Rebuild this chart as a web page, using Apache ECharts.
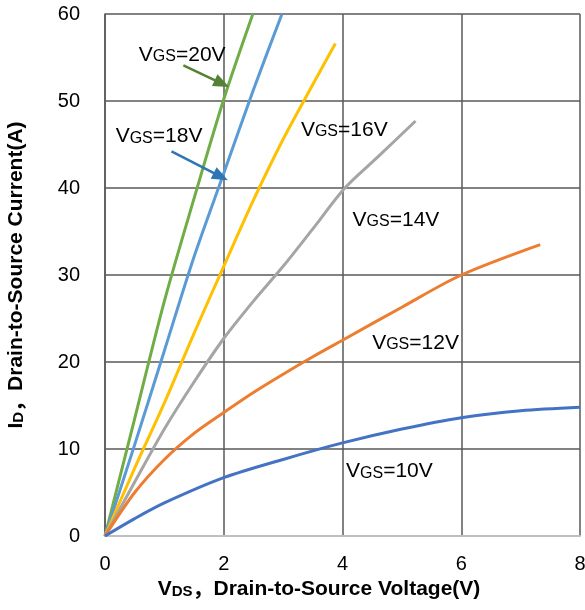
<!DOCTYPE html>
<html>
<head>
<meta charset="utf-8">
<script src="https://cdn.jsdelivr.net/npm/echarts@6/dist/echarts.min.js"></script>
<style>
  html, body { margin: 0; padding: 0; background: #fff; }
  #chart { width: 585px; height: 610px; }
</style>
</head>
<body>
<div id="chart"></div>
<script>
var FONT = 'Liberation Sans, Arial, Noto Sans CJK SC, sans-serif';

// [Vds, Id] points
var vgs10 = [[0, 0], [0.5, 2.0], [1, 3.8], [2, 6.7], [3, 8.8], [4, 10.7], [5, 12.3], [6, 13.6], [7, 14.4], [8, 14.8]];
var vgs12 = [[0, 0], [0.5, 5.0], [1, 8.8], [1.5, 11.8], [2, 14.2], [2.5, 16.5], [3, 18.6], [3.5, 20.6], [4, 22.5], [5, 26.3], [6, 30], [7.33, 33.5]];
var vgs14 = [[0, 0], [0.5, 6.2], [1, 12.3], [1.5, 17.7], [2, 22.7], [2.5, 27.0], [3, 31.0], [3.5, 35.3], [4.04, 40], [4.6, 43.6], [5.23, 47.7]];
var vgs16 = [[0, 0], [0.5, 7.8], [1, 15.3], [1.5, 23.3], [2, 31.0], [2.5, 38.6], [3, 45.6], [3.5, 51.9], [3.88, 56.6]];
var vgs18 = [[0, 0], [0.5, 10.5], [1, 21.3], [1.5, 32.1], [2, 41.7], [2.5, 51.3], [2.98, 60]];
var vgs20 = [[0, 0], [0.5, 13.5], [1, 27.0], [1.5, 38.8], [2, 50.2], [2.49, 60]];

var seriesNames = ['20', '18', '16', '14', '12', '10'];
var seriesData = [vgs20, vgs18, vgs16, vgs14, vgs12, vgs10];
var seriesColors = ['#70AD47', '#5B9BD5', '#FFC000', '#A5A5A5', '#ED7D31', '#4472C4'];
// where each "VGS=..V" label sits, in data units
var labelAt = [[1.30, 55.3], [0.91, 45.9], [4.03, 46.6], [4.90, 36.3], [5.23, 22.2], [4.79, 7.4]];

var xTicks = [0, 2, 4, 6, 8];
var yTicks = [0, 10, 20, 30, 40, 50, 60];

// arrows pointing from the label to its curve
var arrows = {
  '20': { from: [1.32, 54.1], to: [1.97, 52.0], color: '#548235' },
  '18': { from: [1.12, 44.2], to: [1.95, 41.3], color: '#2E75B6' }
};

var rich = {
  b: { fontFamily: FONT, fontSize: 21, color: '#000' },
  s: { fontFamily: FONT, fontSize: 16, color: '#000', padding: [3, 0, 0, 0] }
};
var nameRich = {
  b: { fontFamily: FONT, fontSize: 21, fontWeight: 'bold', color: '#000' },
  s: { fontFamily: FONT, fontSize: 15, fontWeight: 'bold', color: '#000', padding: [4, 0, 0, 0] }
};

var series = seriesNames.map(function (n, i) {
  var s = {
    name: n,
    type: 'line',
    data: seriesData[i],
    smooth: 0.3,
    showSymbol: false,
    lineStyle: { color: seriesColors[i], width: 3 },
    itemStyle: { color: seriesColors[i] },
    markPoint: {
      silent: true,
      symbol: 'circle',
      symbolSize: 0,
      data: [{ coord: labelAt[i] }],
      label: {
        show: true,
        position: 'inside',
        formatter: '{b|V}{s|GS}{b|=' + n + 'V}',
        rich: rich
      }
    }
  };
  if (arrows[n]) {
    s.markLine = {
      silent: true,
      symbol: ['none', 'triangle'],
      symbolSize: [13, 16],
      label: { show: false },
      lineStyle: { color: arrows[n].color, width: 2.5, type: 'solid' },
      data: [[{ coord: arrows[n].from }, { coord: arrows[n].to }]]
    };
  }
  return s;
});

var chart = echarts.init(document.getElementById('chart'));
chart.setOption({
  animation: false,
  backgroundColor: '#fff',
  grid: { left: 105, right: 5, top: 14, bottom: 74, outerBoundsMode: 'none' },
  xAxis: {
    type: 'value',
    min: xTicks[0],
    max: xTicks[xTicks.length - 1],
    interval: 2,
    axisLine: { lineStyle: { color: '#BFBFBF', width: 2 } },
    axisTick: { show: false },
    axisLabel: { fontFamily: FONT, fontSize: 20, color: '#000', margin: 18 },
    splitLine: { lineStyle: { color: '#595959', width: 1.5 } },
    name: '{b|V}{s|DS}{b|，Drain-to-Source Voltage(V)}',
    nameLocation: 'middle',
    nameGap: 43,
    nameTextStyle: { padding: [0, 47, 0, 0], rich: nameRich }
  },
  yAxis: {
    type: 'value',
    min: yTicks[0],
    max: yTicks[yTicks.length - 1],
    interval: 10,
    axisLine: { show: true, lineStyle: { color: '#595959', width: 1.5 } },
    axisTick: { show: false },
    axisLabel: { fontFamily: FONT, fontSize: 20, color: '#000', margin: 25 },
    splitLine: { showMinLine: false, lineStyle: { color: '#595959', width: 1.5 } },
    name: '{b|I}{s|D}{b|，Drain-to-Source Current(A)}',
    nameLocation: 'middle',
    nameGap: 78,
    nameTextStyle: { rich: nameRich }
  },
  series: series
});
</script>
</body>
</html>
